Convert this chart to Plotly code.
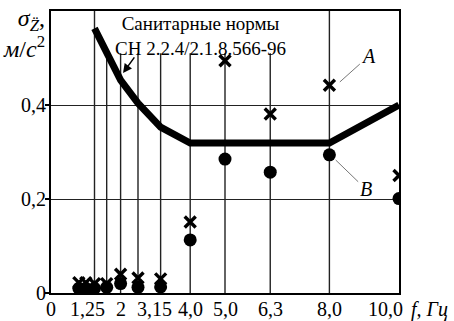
import plotly.graph_objects as go

# Data
freq = [0.8, 1.0, 1.25, 1.6, 2.0, 2.5, 3.15, 4.0, 5.0, 6.3, 8.0, 10.0]
series_A = [0.022, 0.022, 0.02, 0.02, 0.04, 0.032, 0.03, 0.151, 0.494, 0.381, 0.442, 0.25]
series_B = [0.01, 0.01, 0.01, 0.012, 0.02, 0.012, 0.013, 0.113, 0.285, 0.257, 0.294, 0.201]
norm_freq = [1.25, 1.6, 2.0, 2.5, 3.15, 4.0, 5.0, 6.3, 8.0, 10.0]
norm_vals = [0.563, 0.515, 0.453, 0.404, 0.353, 0.319, 0.319, 0.319, 0.319, 0.40]
grid_x = [1.25, 1.6, 2.0, 2.5, 3.15, 4.0, 5.0, 6.3, 8.0]
grid_full = [1.25, 8.0]          # grid lines that run up to the top frame
xtick_vals = [0, 1.25, 2.0, 3.15, 4.0, 5.0, 6.3, 8.0]
xtick_text = ["0", "1,25", "2", "3,15", "4,0", "5,0", "6,3", "8,0"]
xtick_shift = [0, -7, 0, -6, 0, 0, 0, 0]   # small horizontal offsets of the labels
ytick_vals = [0, 0.2, 0.4]
ytick_text = ["0", "0,2", "0,4"]
Y_MAX = 0.6
CAPTION_BOTTOM = 0.51

FONT = "Liberation Serif"

fig = go.Figure()
fig.add_trace(go.Scatter(x=norm_freq, y=norm_vals, mode="lines",
                         line=dict(color="black", width=7), hoverinfo="skip"))
fig.add_trace(go.Scatter(x=freq, y=series_A, mode="markers",
                         marker=dict(symbol="x-thin", size=11,
                                     line=dict(color="black", width=3.4))))
fig.add_trace(go.Scatter(x=freq, y=series_B, mode="markers",
                         marker=dict(symbol="circle", size=13, color="black")))

# vertical grid lines (those under the caption stop below it)
for gx in grid_x:
    top = Y_MAX if gx in grid_full else CAPTION_BOTTOM
    fig.add_shape(type="line", x0=gx, x1=gx, y0=0, y1=top,
                  line=dict(color="#222", width=1.4), layer="below")

fig.update_layout(
    width=454, height=321,
    margin=dict(l=51, r=55, t=11, b=28),
    paper_bgcolor="white", plot_bgcolor="white",
    showlegend=False,
    font=dict(family=FONT, size=20, color="black"),
    xaxis=dict(range=[0, 10], showticklabels=False,
               showgrid=False, automargin=False,
               showline=True, linecolor="black", linewidth=2, mirror=True,
               ticks="", zeroline=False),
    yaxis=dict(range=[0, Y_MAX], tickvals=ytick_vals, ticktext=ytick_text,
               showgrid=True, gridcolor="#222", gridwidth=1.4, automargin=False,
               ticklabelstandoff=-5,
               showline=True, linecolor="black", linewidth=2, mirror=True,
               ticks="outside", ticklen=4, tickwidth=1.5, tickcolor="black",
               zeroline=False, tickfont=dict(size=20, family=FONT)),
)

# x tick labels
for xv, xt, xs in zip(xtick_vals, xtick_text, xtick_shift):
    fig.add_annotation(x=xv, xref="x", y=0, yref="paper", yanchor="top",
                       xanchor="center", xshift=xs, yshift=-3, showarrow=False,
                       text=xt, font=dict(size=20, family=FONT))
fig.add_annotation(xref="paper", yref="paper", x=1.0, y=0, yanchor="top",
                   xanchor="right", xshift=6, yshift=-3, showarrow=False,
                   text="10,0", font=dict(size=20, family=FONT))
fig.add_annotation(xref="paper", yref="paper", x=1.0, y=0, yanchor="top",
                   xanchor="left", xshift=10, yshift=-3, showarrow=False,
                   text="<i>f, Гц</i>", font=dict(size=20, family=FONT))

fig.add_annotation(xref="paper", yref="paper", x=0.43, y=1.0, yanchor="top",
                   showarrow=False, align="center",
                   text="Санитарные нормы<br>СН 2.2.4/2.1.8.566-96",
                   font=dict(size=19, family=FONT))
# arrow to the norm curve
fig.add_annotation(x=2.07, y=0.468, ax=2.51, ay=0.513, axref="x", ayref="y",
                   text=" ", showarrow=True, arrowhead=2, arrowsize=1.2,
                   arrowwidth=1.5, arrowcolor="black", standoff=0, startstandoff=0)
# A and B labels
fig.add_annotation(x=8.3, y=0.449, ax=29, ay=-26, text="<i>A</i>",
                   showarrow=True, arrowhead=0, arrowwidth=1, arrowcolor="#777",
                   font=dict(size=20, family=FONT))
fig.add_annotation(x=8.18, y=0.283, ax=30, ay=29, text="<i>B</i>",
                   showarrow=True, arrowhead=0, arrowwidth=1, arrowcolor="#777",
                   font=dict(size=20, family=FONT))
# y axis title
fig.add_annotation(xref="paper", yref="paper", x=-0.012, y=1.03, xanchor="right",
                   yanchor="top", showarrow=False, align="right",
                   text="<i>σ</i><sub><i>Z̈</i></sub>,<br><i>м</i>/<i>с</i><sup>2</sup>",
                   font=dict(size=24, family=FONT))

fig.write_html("out.html", config={"displayModeBar": False},
               post_script="document.body.style.margin='0';document.body.style.overflow='hidden';")
